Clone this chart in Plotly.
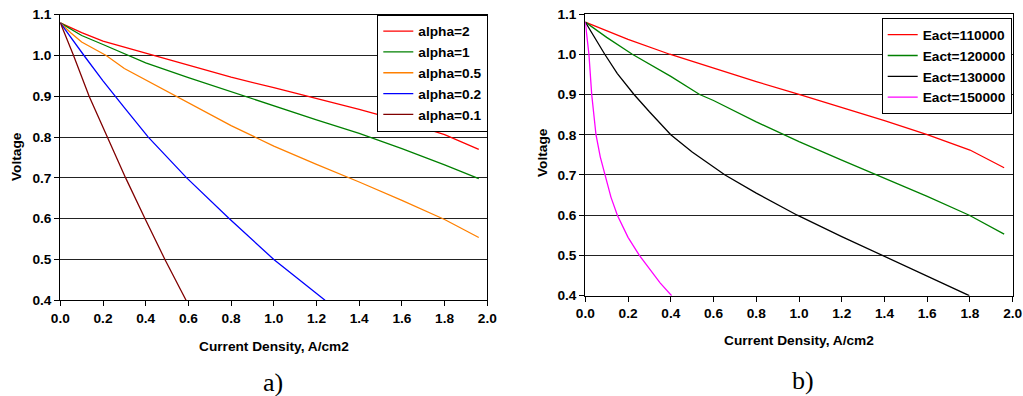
import plotly.graph_objects as go

W, H = 1023, 396

# ---------------- data: panel a) (alpha) ----------------
a_names = ["alpha=2", "alpha=1", "alpha=0.5", "alpha=0.2", "alpha=0.1"]
a_colors = ["#FF0000", "#008000", "#FF8000", "#0000FF", "#800000"]

a2_x = [0, 0.1, 0.2, 0.434, 0.6, 0.8, 1.0, 1.2, 1.4, 1.6, 1.8, 1.96]
a2_y = [1.08, 1.056, 1.035, 1.0, 0.976, 0.947, 0.921, 0.895, 0.868, 0.839, 0.806, 0.77]

a1_x = [0, 0.1, 0.2, 0.325, 0.4, 0.6, 0.8, 1.0, 1.2, 1.4, 1.6, 1.8, 1.96]
a1_y = [1.08, 1.049, 1.027, 1.0, 0.982, 0.946, 0.911, 0.876, 0.842, 0.809, 0.772, 0.732, 0.698]

a05_x = [0, 0.05, 0.1, 0.215, 0.3, 0.4, 0.6, 0.8, 1.0, 1.2, 1.4, 1.6, 1.8, 1.96]
a05_y = [1.08, 1.055, 1.033, 1.0, 0.968, 0.94, 0.886, 0.828, 0.778, 0.733, 0.69, 0.645, 0.598, 0.554]

a02_x = [0, 0.05, 0.111, 0.2, 0.256, 0.3, 0.412, 0.592, 0.792, 1.0, 1.24]
a02_y = [1.08, 1.043, 1.0, 0.938, 0.9, 0.872, 0.8, 0.7, 0.6, 0.5, 0.4]

a01_x = [0, 0.062, 0.135, 0.22, 0.306, 0.397, 0.49, 0.589]
a01_y = [1.08, 1.0, 0.9, 0.8, 0.7, 0.6, 0.5, 0.4]

# ---------------- data: panel b) (Eact) ----------------
b_names = ["Eact=110000", "Eact=120000", "Eact=130000", "Eact=150000"]
b_colors = ["#FF0000", "#008000", "#000000", "#FF00FF"]

e110_x = [0, 0.2, 0.395, 0.6, 0.8, 1.0, 1.2, 1.4, 1.6, 1.8, 1.96]
e110_y = [1.08, 1.037, 1.0, 0.965, 0.932, 0.9, 0.867, 0.835, 0.8, 0.762, 0.718]

e120_x = [0, 0.1, 0.22, 0.4, 0.535, 0.6, 0.8, 0.927, 1.0, 1.2, 1.363, 1.6, 1.797, 1.96]
e120_y = [1.08, 1.042, 1.0, 0.945, 0.9, 0.885, 0.832, 0.8, 0.783, 0.737, 0.7, 0.647, 0.6, 0.553]

e130_x = [0, 0.091, 0.15, 0.228, 0.3, 0.4, 0.5, 0.654, 0.8, 0.992, 1.2, 1.39, 1.6, 1.797]
e130_y = [1.08, 1.0, 0.952, 0.9, 0.857, 0.8, 0.757, 0.7, 0.655, 0.6, 0.547, 0.5, 0.45, 0.4]

e150_x = [0, 0.017, 0.03, 0.05, 0.07, 0.092, 0.12, 0.15, 0.2, 0.253, 0.3, 0.35, 0.404]
e150_y = [1.08, 1.0, 0.9, 0.8, 0.745, 0.7, 0.645, 0.6, 0.545, 0.5, 0.466, 0.432, 0.4]

x_ticks = [0.0, 0.2, 0.4, 0.6, 0.8, 1.0, 1.2, 1.4, 1.6, 1.8, 2.0]
y_ticks = [0.4, 0.5, 0.6, 0.7, 0.8, 0.9, 1.0, 1.1]
x_title = "Current Density, A/cm2"
y_title = "Voltage"
panel_labels = ["a)", "b)"]

a_series = [(a2_x, a2_y), (a1_x, a1_y), (a05_x, a05_y), (a02_x, a02_y), (a01_x, a01_y)]
b_series = [(e110_x, e110_y), (e120_x, e120_y), (e130_x, e130_y), (e150_x, e150_y)]

# ---------------- figure ----------------
FONT = "Liberation Sans, Arial, sans-serif"
fig = go.Figure()

for (xs, ys), n, c in zip(a_series, a_names, a_colors):
    fig.add_trace(go.Scatter(x=xs, y=ys, mode="lines", name=n,
                             line=dict(color=c, width=1.3),
                             xaxis="x", yaxis="y", legend="legend"))
for (xs, ys), n, c in zip(b_series, b_names, b_colors):
    fig.add_trace(go.Scatter(x=xs, y=ys, mode="lines", name=n,
                             line=dict(color=c, width=1.3),
                             xaxis="x2", yaxis="y2", legend="legend2"))

def px_x(p):
    return p / W

def px_y(p):
    return 1 - p / H

# plot-area pixel boxes
A = dict(l=60.3, r=487.3, t=14.7, b=300.3)
B = dict(l=585.3, r=1012.7, t=14.0, b=295.7)

FS = 13.7
tickfont = dict(family=FONT, size=FS, color="black", weight="bold")

def xaxis(box, anchor):
    return dict(domain=[px_x(box["l"]), px_x(box["r"])], anchor=anchor,
                range=[0, 2.0], tickvals=x_ticks, tickformat=".1f",
                showline=True, linecolor="black", linewidth=1.3, mirror=True,
                ticks="outside", ticklen=5, tickcolor="black", tickwidth=1,
                showgrid=False, zeroline=False, tickfont=tickfont,
                automargin=False)

def yaxis(box, anchor):
    return dict(domain=[px_y(box["b"]), px_y(box["t"])], anchor=anchor,
                range=[0.4, 1.1], tickvals=y_ticks, tickformat=".1f",
                showline=True, linecolor="black", linewidth=1.3, mirror=True,
                ticks="outside", ticklen=5, tickcolor="black", tickwidth=1,
                showgrid=True, gridcolor="#222222", gridwidth=1,
                zeroline=False, tickfont=tickfont, automargin=False)

legfont = dict(family=FONT, size=FS, color="black", weight="bold")

fig.update_layout(
    width=W, height=H,
    margin=dict(l=0, r=0, t=0, b=0, autoexpand=False),
    paper_bgcolor="white", plot_bgcolor="white",
    showlegend=True,
    xaxis=xaxis(A, "y"), yaxis=yaxis(A, "x"),
    xaxis2=xaxis(B, "y2"), yaxis2=yaxis(B, "x2"),
    legend=dict(x=px_x(488.3), y=px_y(14.7), xanchor="right", yanchor="top",
                bgcolor="white", bordercolor="black", borderwidth=1,
                font=legfont, tracegroupgap=0),
    legend2=dict(x=px_x(1011.7), y=px_y(18.3), xanchor="right", yanchor="top",
                 bgcolor="white", bordercolor="black", borderwidth=1,
                 font=legfont, tracegroupgap=0),
)

titlefont = dict(family=FONT, size=FS, color="black", weight="bold")
ann = []
# x-axis titles
ann.append(dict(text=x_title, x=px_x((A["l"] + A["r"]) / 2), y=px_y(346),
                xref="paper", yref="paper", showarrow=False,
                xanchor="center", yanchor="middle", font=titlefont))
ann.append(dict(text=x_title, x=px_x(799), y=px_y(340),
                xref="paper", yref="paper", showarrow=False,
                xanchor="center", yanchor="middle", font=titlefont))
# y-axis titles
ann.append(dict(text=y_title, x=px_x(17), y=px_y(157), textangle=-90,
                xref="paper", yref="paper", showarrow=False,
                xanchor="center", yanchor="middle", font=titlefont))
ann.append(dict(text=y_title, x=px_x(542), y=px_y(153), textangle=-90,
                xref="paper", yref="paper", showarrow=False,
                xanchor="center", yanchor="middle", font=titlefont))
# panel labels
ann.append(dict(text=panel_labels[0], x=px_x(273), y=px_y(382),
                xref="paper", yref="paper", showarrow=False,
                xanchor="center", yanchor="middle",
                font=dict(family="Liberation Serif, Times New Roman, serif", size=26, color="black")))
ann.append(dict(text=panel_labels[1], x=px_x(803), y=px_y(380),
                xref="paper", yref="paper", showarrow=False,
                xanchor="center", yanchor="middle",
                font=dict(family="Liberation Serif, Times New Roman, serif", size=26, color="black")))
fig.update_layout(annotations=ann)

fig.write_html("out.html")
